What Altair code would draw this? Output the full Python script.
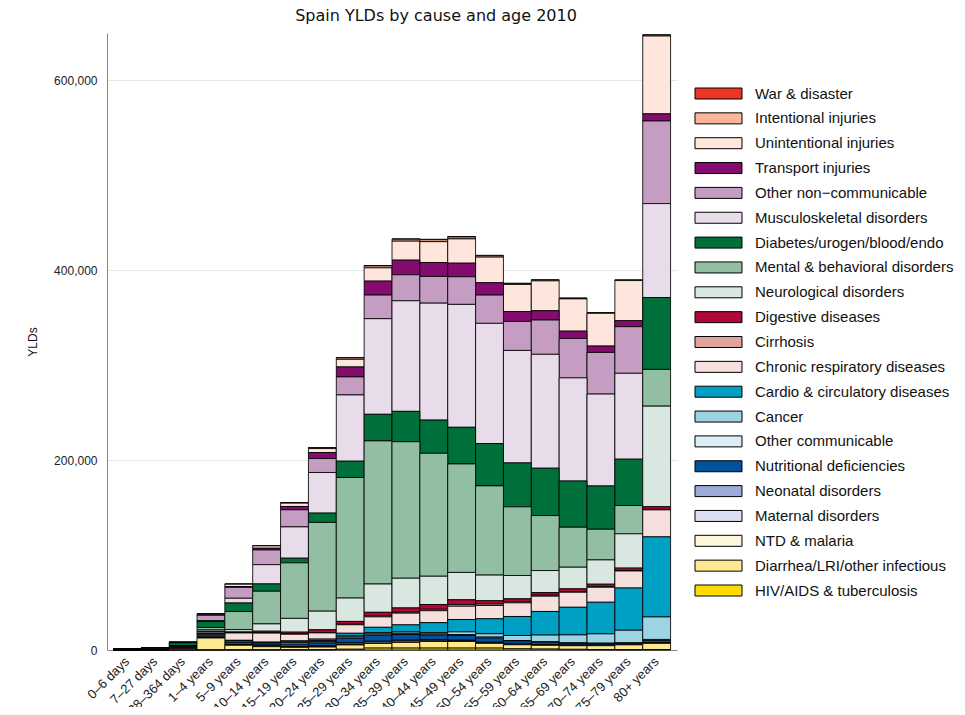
import altair as alt
import pandas as pd

ages = ["0–6 days", "7–27 days", "28–364 days", "1–4 years", "5–9 years", "10–14 years",
        "15–19 years", "20–24 years", "25–29 years", "30–34 years", "35–39 years",
        "40–44 years", "45–49 years", "50–54 years", "55–59 years", "60–64 years",
        "65–69 years", "70–74 years", "75–79 years", "80+ years"]

# legend order (top to bottom); stacking is the reverse (HIV at the bottom)
causes = ["War & disaster", "Intentional injuries", "Unintentional injuries", "Transport injuries",
          "Other non−communicable", "Musculoskeletal disorders", "Diabetes/urogen/blood/endo",
          "Mental & behavioral disorders", "Neurological disorders", "Digestive diseases",
          "Cirrhosis", "Chronic respiratory diseases", "Cardio & circulatory diseases", "Cancer",
          "Other communicable", "Nutritional deficiencies", "Neonatal disorders",
          "Maternal disorders", "NTD & malaria", "Diarrhea/LRI/other infectious",
          "HIV/AIDS & tuberculosis"]

colors = ["#EE3424", "#FCB59B", "#FEE6DD", "#850C6F", "#C59DC3", "#E8DCEA", "#00703A",
          "#92BFA4", "#D8E7E0", "#B20837", "#DFA29D", "#F6E0DD", "#00A0C4", "#9DD4E4",
          "#DAEFF3", "#00529E", "#9BAAD6", "#DCDFF0", "#FFF7D9", "#FEE890", "#FFDC00"]

# YLDs in thousands, one value per age group
war = [0, 0, 0, 0, 0, 0, 0, 0.1, 0.3, 0.4, 0.5, 0.5, 0.5, 0.4, 0.3, 0.3, 0.3, 0.3, 0.3, 0.3]
intentional = [0, 0, 0, 0.1, 0.1, 0.3, 0.5, 1.0, 1.5, 2.0, 2.0, 2.0, 2.0, 1.5, 1.0, 0.8, 0.6, 0.5, 0.4, 1.0]
unintentional = [0.02, 0.05, 0.2, 1.0, 2.5, 2.5, 3.5, 4.2, 8.0, 14.0, 20.0, 22.0, 25.6, 27.0, 28.5, 31.5, 34.0, 34.5, 42.3, 82.0]
transport = [0, 0, 0, 0.3, 0.8, 1.8, 3.5, 6.3, 10.5, 14.7, 15.4, 14.7, 14.3, 13.0, 10.5, 9.8, 7.7, 6.7, 6.3, 7.5]
other_ncd = [0.05, 0.1, 0.3, 5.6, 11.5, 15.5, 18.0, 14.7, 19.0, 24.9, 27.4, 28.1, 29.1, 29.8, 30.5, 36.1, 41.5, 43.9, 49.1, 87.0]
musculo = [0, 0, 0.1, 1.0, 5.0, 20.3, 33.0, 42.8, 69.8, 100.7, 116.5, 123.2, 129.5, 126.6, 118.5, 120.0, 108.7, 96.8, 90.5, 99.0]
diabetes = [0.05, 0.15, 3.0, 6.3, 9.0, 7.7, 4.9, 9.8, 17.2, 28.0, 32.0, 35.0, 38.6, 44.6, 46.3, 49.9, 48.7, 45.6, 48.8, 75.7]
mental = [0, 0, 0.1, 2.5, 19.0, 34.4, 58.5, 93.5, 127.0, 150.8, 143.8, 129.5, 114.3, 94.0, 72.3, 57.9, 42.1, 32.3, 29.8, 38.7]
neuro = [0.05, 0.1, 0.3, 1.5, 2.5, 7.7, 14.5, 19.6, 24.6, 29.8, 31.3, 29.8, 28.8, 27.0, 24.6, 23.2, 22.8, 25.6, 36.1, 106.0]
digestive = [0.01, 0.02, 0.1, 0.5, 1.0, 1.9, 2.0, 3.0, 3.0, 4.0, 4.5, 5.0, 5.0, 3.5, 3.0, 2.8, 2.8, 2.5, 2.5, 2.8]
cirrhosis = [0, 0, 0, 0, 0.1, 0.1, 0.2, 0.3, 0.5, 0.8, 1.0, 1.5, 1.8, 1.5, 1.2, 1.0, 0.8, 0.7, 0.6, 0.5]
chronic_resp = [0.02, 0.05, 0.2, 1.5, 7.7, 9.5, 7.0, 6.5, 9.0, 11.0, 12.3, 12.6, 14.0, 14.0, 14.4, 16.1, 15.8, 15.8, 17.9, 28.4]
cardio = [0.02, 0.03, 0.1, 0.3, 0.5, 0.6, 1.2, 1.5, 2.8, 5.5, 7.5, 10.5, 13.0, 15.8, 20.0, 24.9, 29.1, 33.3, 44.5, 84.4]
cancer = [0.02, 0.02, 0.1, 0.5, 0.4, 0.5, 0.7, 1.0, 1.2, 1.5, 1.5, 1.5, 2.8, 3.5, 5.3, 7.0, 8.4, 9.8, 13.3, 23.7]
other_comm = [0.05, 0.1, 0.3, 1.0, 1.2, 1.0, 1.5, 1.5, 1.2, 1.2, 1.2, 1.0, 1.0, 1.0, 0.5, 0.5, 0.5, 0.5, 0.4, 1.0]
nutritional = [0.05, 0.2, 0.8, 2.0, 2.5, 2.0, 2.5, 3.0, 5.0, 6.5, 6.0, 5.0, 5.0, 4.5, 3.0, 2.5, 1.8, 1.5, 1.2, 2.5]
neonatal = [0.5, 0.9, 1.0, 1.0, 0.3, 0.3, 0.3, 0.3, 0.3, 0.5, 0.5, 0.5, 0.5, 0.5, 0.5, 0.5, 0.4, 0.4, 0.3, 0.3]
maternal = [0, 0, 0, 0, 0, 0.1, 0.3, 0.8, 1.5, 1.5, 1.5, 1.0, 0.5, 0.3, 0.2, 0.1, 0.1, 0.1, 0.1, 0.1]
ntd = [0, 0.01, 0.1, 0.3, 0.3, 0.3, 0.3, 0.3, 0.3, 0.3, 0.3, 0.3, 0.3, 0.3, 0.3, 0.2, 0.2, 0.2, 0.1, 0.2]
diarrhea = [0.05, 0.3, 1.5, 12.5, 4.8, 3.3, 2.5, 2.7, 4.5, 4.9, 6.0, 7.0, 7.0, 5.0, 4.2, 3.9, 3.8, 4.0, 5.0, 6.5]
hiv = [0, 0, 0, 0.1, 0.2, 0.2, 0.3, 0.4, 0.8, 2.0, 2.0, 2.0, 2.0, 2.0, 1.3, 1.0, 0.7, 0.5, 0.4, 0.5]

series = [war, intentional, unintentional, transport, other_ncd, musculo, diabetes, mental,
          neuro, digestive, cirrhosis, chronic_resp, cardio, cancer, other_comm, nutritional,
          neonatal, maternal, ntd, diarrhea, hiv]

rows = []
for ci, (cause, vals) in enumerate(zip(causes, series)):
    for age, v in zip(ages, vals):
        rows.append({"age": age, "cause": cause, "value": v * 1000, "ord": len(causes) - ci})
df = pd.DataFrame(rows)

SANS = "Liberation Sans"

chart = alt.Chart(df).mark_bar(
    stroke="black", strokeWidth=1, strokeOpacity=0.85
).encode(
    x=alt.X("age:N", sort=ages,
            scale=alt.Scale(paddingInner=0, paddingOuter=0.23),
            axis=alt.Axis(title=None, labelAngle=315, labelAlign="right", labelBaseline="middle",
                          labelFont=SANS, labelFontSize=13, labelColor="#222",
                          domainColor="#888", ticks=False, labelPadding=9, grid=False)),
    y=alt.Y("value:Q", stack="zero",
            scale=alt.Scale(domain=[0, 650000], nice=False),
            axis=alt.Axis(title="YLDs", values=[0, 200000, 400000, 600000], format=",d",
                          labelFont=SANS, labelFontSize=12, labelColor="#222",
                          titleFont=SANS, titleFontSize=12, titleFontWeight="normal",
                          titleColor="#111", titlePadding=14,
                          domainColor="#888", ticks=False, labelPadding=10,
                          gridColor="#e6e6e6", gridWidth=1)),
    color=alt.Color("cause:N",
                    scale=alt.Scale(domain=causes, range=colors),
                    legend=alt.Legend(title=None, orient="none", legendX=586, legendY=53,
                                      symbolType="M-4.27,-1L4.27,-1L4.27,1L-4.27,1Z",
                                      symbolSize=121, symbolStrokeColor="black",
                                      symbolStrokeWidth=1, symbolOpacity=1,
                                      symbolOffset=18, labelOffset=29,
                                      labelFont=SANS, labelFontSize=15, labelColor="#111",
                                      rowPadding=8.85, padding=0, labelLimit=400)),
    order=alt.Order("ord:Q", sort="ascending"),
).properties(
    width=570, height=617,
    title=alt.TitleParams("Spain YLDs by cause and age 2010", font="DejaVu Sans", fontSize=16,
                          fontWeight="normal", color="#111", anchor="middle", dx=44, offset=9),
    autosize=alt.AutoSizeParams(type="none"),
    padding={"left": 99, "top": 25, "right": 278, "bottom": 57},
).configure_view(stroke=None)

chart.save("out.html", embed_options={"renderer": "svg", "actions": False})
